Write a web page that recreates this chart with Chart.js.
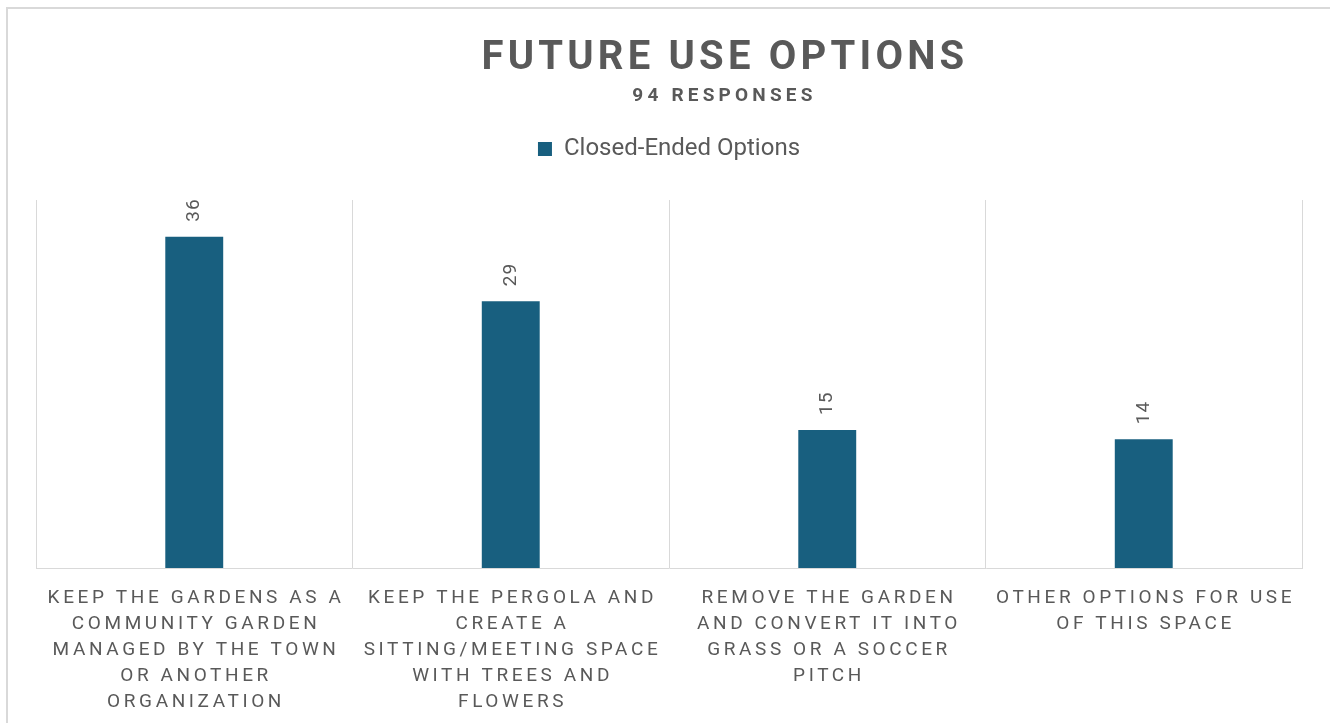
<!DOCTYPE html>
<html><head><meta charset="utf-8">
<script src="https://cdn.jsdelivr.net/npm/chart.js@4.4.1/dist/chart.umd.min.js"></script>
<style>
html,body{margin:0;padding:0;background:#fff;overflow:hidden;width:1330px;height:723px}
#wrap{position:absolute;left:0;top:0;width:1330px;height:723px}
#frame{position:absolute;left:6px;top:7px;width:2000px;height:2000px;border-left:2px solid #d9d9d9;border-top:2px solid #d9d9d9;pointer-events:none}
</style></head><body>
<div id="wrap"><canvas id="c" width="1330" height="723" style="width:1330px;height:723px"></canvas></div>
<div id="frame"></div>
<script>
const titleText = 'FUTURE USE OPTIONS';
const subtitleText = '94 RESPONSES';
const seriesName = 'Closed-Ended Options';
const categories = [
  ['KEEP THE GARDENS AS A','COMMUNITY GARDEN','MANAGED BY THE TOWN','OR ANOTHER','ORGANIZATION'],
  ['KEEP THE PERGOLA AND','CREATE A','SITTING/MEETING SPACE','WITH TREES AND','FLOWERS'],
  ['REMOVE THE GARDEN','AND CONVERT IT INTO','GRASS OR A SOCCER','PITCH'],
  ['OTHER OPTIONS FOR USE','OF THIS SPACE']
];
const values = [36, 29, 15, 14];

const FONT = 'Roboto, "Open Sans", sans-serif';
const GREY = '#595959';
const BAR = '#185F7F';
const GRID = '#d9d9d9';

const textPlugin = {
  id: 'textPlugin',
  beforeLayout(chart) {
    const lg = chart.legend;
    if (lg && !lg._patched) {
      const orig = lg.fit;
      lg.fit = function () { orig.call(this); this.height = 73; };
      lg._patched = true;
    }
  },
  afterDatasetsDraw(chart) {
    const ctx = chart.ctx;
    const meta = chart.getDatasetMeta(0);
    meta.data.forEach((bar, i) => {
      ctx.save();
      ctx.translate(bar.x, bar.y - 15);
      ctx.rotate(-Math.PI / 2);
      ctx.font = '19px ' + FONT;
      ctx.letterSpacing = '1px';
      ctx.fillStyle = GREY;
      ctx.textAlign = 'left';
      ctx.textBaseline = 'middle';
      ctx.fillText(String(values[i]), 0, 0);
      ctx.restore();
    });
  },
  afterDraw(chart) {
    const ctx = chart.ctx;
    const cx = 724;
    ctx.save();
    ctx.fillStyle = GREY;
    ctx.textAlign = 'center';
    ctx.textBaseline = 'alphabetic';
    ctx.font = 'bold 40px ' + FONT;
    ctx.letterSpacing = '4.2px';
    ctx.fillText(titleText, cx + 1, 69);
    ctx.font = 'bold 19px ' + FONT;
    ctx.letterSpacing = '4.2px';
    ctx.fillText(subtitleText, cx + 0.5, 101);
    // category labels at scale positions
    const xs = chart.scales.x;
    ctx.font = '19px ' + FONT;
    ctx.letterSpacing = '3.6px';
    categories.forEach((lines, i) => {
      const px = xs.getPixelForValue(i);
      lines.forEach((ln, j) => {
        ctx.fillText(ln, px + 1.8, chart.chartArea.bottom + 35 + j * 26);
      });
    });
    ctx.restore();
  }
};

new Chart(document.getElementById('c'), {
  type: 'bar',
  data: {
    labels: categories,
    datasets: [{
      label: seriesName,
      data: values,
      backgroundColor: BAR,
      borderWidth: 0,
      categoryPercentage: 1,
      barPercentage: 0.183
    }]
  },
  options: {
    responsive: false,
    animation: false,
    layout: { padding: { top: 127, left: 36, right: 28, bottom: 155 } },
    plugins: {
      title: { display: false },
      tooltip: { enabled: false },
      legend: {
        display: true,
        position: 'top',
        fullSize: false,
        labels: {
          boxWidth: 14, boxHeight: 14, padding: 10,
          color: GREY,
          font: { family: FONT, size: 24 }
        }
      }
    },
    scales: {
      x: {
        type: 'category',
        offset: true,
        grid: { display: true, offset: true, color: GRID, lineWidth: 1, drawTicks: false },
        border: { display: true, color: GRID, width: 1 },
        ticks: { display: false }
      },
      y: {
        display: false,
        min: 0, max: 40
      }
    }
  },
  plugins: [textPlugin]
});
</script>
</body></html>
